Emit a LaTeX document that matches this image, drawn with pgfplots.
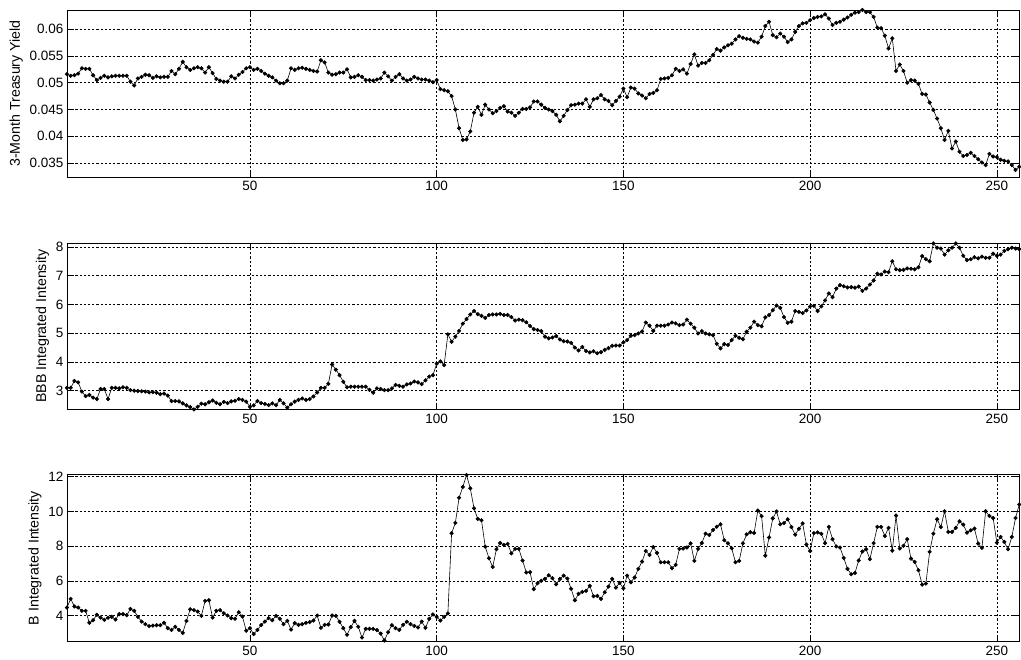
\documentclass[border=0pt]{standalone}
\usepackage{pgfplots}
\pgfplotsset{compat=1.18}
\usepackage{pgfplotstable}
\usepackage{fontspec}
\setmainfont{Liberation Sans}

\pgfplotstableread{
x T BBB B
1 0.0516 3.10 4.46
2 0.0513 3.10 4.96
3 0.0514 3.34 4.52
4 0.0517 3.29 4.46
5 0.0527 2.97 4.27
6 0.0526 2.81 4.27
7 0.0526 2.85 3.58
8 0.0514 2.76 3.73
9 0.0505 2.71 4.04
10 0.0509 3.06 3.88
11 0.0513 3.06 3.75
12 0.0510 2.71 3.87
13 0.0512 3.10 3.92
14 0.0513 3.10 3.77
15 0.0513 3.08 4.08
16 0.0513 3.12 4.08
17 0.0513 3.10 4.02
18 0.0502 3.02 4.38
19 0.0495 3.00 4.27
20 0.0508 2.99 3.92
21 0.0511 2.98 3.65
22 0.0515 2.97 3.50
23 0.0514 2.94 3.39
24 0.0509 2.95 3.42
25 0.0512 2.93 3.44
26 0.0510 2.88 3.44
27 0.0511 2.90 3.58
28 0.0511 2.83 3.27
29 0.0522 2.64 3.17
30 0.0516 2.64 3.35
31 0.0526 2.63 3.17
32 0.0539 2.56 3.00
33 0.0529 2.49 3.69
34 0.0524 2.43 4.36
35 0.0527 2.35 4.31
36 0.0529 2.44 4.23
37 0.0527 2.55 3.98
38 0.0519 2.53 4.84
39 0.0529 2.60 4.88
40 0.0518 2.66 3.88
41 0.0507 2.58 4.27
42 0.0504 2.53 4.31
43 0.0502 2.61 4.13
44 0.0502 2.57 4.00
45 0.0512 2.63 3.85
46 0.0508 2.65 3.81
47 0.0515 2.71 4.19
48 0.0520 2.68 3.94
49 0.0527 2.62 3.12
50 0.0529 2.44 3.27
51 0.0524 2.49 2.93
52 0.0526 2.64 3.17
53 0.0522 2.57 3.45
54 0.0517 2.54 3.65
55 0.0513 2.50 3.85
56 0.0510 2.56 3.73
57 0.0504 2.50 3.98
58 0.0499 2.68 3.81
59 0.0499 2.56 3.50
60 0.0504 2.41 3.69
61 0.0527 2.53 3.19
62 0.0524 2.62 3.56
63 0.0527 2.68 3.46
64 0.0528 2.73 3.50
65 0.0526 2.68 3.58
66 0.0524 2.71 3.62
67 0.0522 2.80 3.71
68 0.0521 2.94 4.00
69 0.0542 3.10 3.29
70 0.0538 3.10 3.46
71 0.0519 3.24 3.48
72 0.0515 3.91 4.00
73 0.0516 3.73 3.98
74 0.0519 3.54 3.64
75 0.0519 3.31 3.27
76 0.0525 3.12 2.89
77 0.0510 3.14 3.33
78 0.0511 3.14 3.69
79 0.0514 3.14 3.35
80 0.0511 3.14 2.73
81 0.0505 3.14 3.23
82 0.0505 3.03 3.23
83 0.0504 2.93 3.23
84 0.0506 3.08 3.16
85 0.0508 3.06 2.96
86 0.0519 3.02 2.56
87 0.0512 3.02 3.04
88 0.0504 3.08 3.44
89 0.0511 3.20 3.27
90 0.0516 3.17 3.17
91 0.0508 3.14 3.46
92 0.0504 3.22 3.64
93 0.0506 3.25 3.50
94 0.0511 3.32 3.40
95 0.0508 3.29 3.31
96 0.0506 3.23 3.65
97 0.0506 3.36 3.29
98 0.0504 3.49 3.81
99 0.0501 3.54 4.06
100 0.0505 3.94 3.92
101 0.0488 4.02 3.71
102 0.0486 3.89 3.92
103 0.0484 4.96 4.12
104 0.0475 4.70 8.74
105 0.0450 4.88 9.34
106 0.0415 5.08 10.79
107 0.0393 5.33 11.41
108 0.0394 5.49 12.10
109 0.0409 5.65 11.33
110 0.0444 5.77 10.18
111 0.0455 5.66 9.57
112 0.0440 5.60 9.49
113 0.0459 5.53 7.97
114 0.0450 5.63 7.30
115 0.0443 5.65 6.80
116 0.0447 5.65 7.82
117 0.0453 5.67 8.18
118 0.0456 5.63 8.07
119 0.0446 5.63 8.13
120 0.0444 5.56 7.58
121 0.0438 5.44 7.84
122 0.0444 5.47 7.84
123 0.0451 5.45 7.17
124 0.0451 5.38 6.48
125 0.0454 5.25 6.50
126 0.0465 5.14 5.52
127 0.0465 5.11 5.86
128 0.0459 5.07 6.00
129 0.0453 4.88 6.11
130 0.0450 4.82 6.32
131 0.0447 4.85 6.15
132 0.0440 4.90 5.80
133 0.0428 4.78 6.11
134 0.0438 4.72 6.30
135 0.0449 4.71 6.13
136 0.0458 4.66 5.54
137 0.0459 4.50 4.88
138 0.0461 4.40 5.25
139 0.0461 4.52 5.36
140 0.0469 4.38 5.42
141 0.0455 4.33 5.71
142 0.0469 4.37 5.11
143 0.0471 4.30 5.13
144 0.0477 4.34 4.96
145 0.0469 4.42 5.34
146 0.0466 4.48 5.67
147 0.0458 4.56 6.11
148 0.0466 4.57 5.61
149 0.0474 4.57 5.88
150 0.0489 4.68 5.57
151 0.0473 4.76 6.30
152 0.0491 4.91 5.92
153 0.0489 4.93 6.19
154 0.0480 4.99 6.69
155 0.0476 5.06 7.11
156 0.0471 5.37 7.72
157 0.0479 5.26 7.49
158 0.0481 5.08 7.95
159 0.0486 5.26 7.61
160 0.0507 5.26 7.07
161 0.0508 5.26 7.07
162 0.0509 5.30 7.07
163 0.0514 5.37 6.73
164 0.0526 5.34 6.92
165 0.0522 5.28 7.84
166 0.0525 5.30 7.86
167 0.0517 5.47 7.92
168 0.0535 5.33 8.16
169 0.0553 5.19 7.15
170 0.0532 4.99 7.84
171 0.0537 5.07 8.18
172 0.0537 4.99 8.72
173 0.0542 4.96 8.64
174 0.0552 4.93 8.93
175 0.0563 4.63 9.12
176 0.0560 4.47 9.26
177 0.0566 4.62 8.34
178 0.0570 4.59 8.16
179 0.0573 4.76 7.88
180 0.0581 4.91 7.07
181 0.0587 4.84 7.15
182 0.0584 4.79 8.16
183 0.0582 5.05 8.68
184 0.0581 5.19 8.80
185 0.0577 5.40 8.76
186 0.0575 5.28 10.05
187 0.0586 5.24 9.73
188 0.0606 5.55 7.45
189 0.0614 5.63 8.50
190 0.0589 5.80 9.60
191 0.0585 5.96 10.00
192 0.0592 5.88 9.26
193 0.0586 5.56 9.33
194 0.0576 5.36 9.55
195 0.0581 5.40 9.10
196 0.0595 5.77 8.66
197 0.0606 5.74 9.00
198 0.0611 5.70 9.31
199 0.0612 5.79 8.09
200 0.0617 5.93 7.72
201 0.0621 5.95 8.75
202 0.0623 5.77 8.79
203 0.0624 5.93 8.71
204 0.0628 6.14 8.17
205 0.0620 6.38 9.11
206 0.0608 6.25 8.40
207 0.0612 6.55 7.98
208 0.0614 6.67 7.92
209 0.0618 6.63 7.32
210 0.0622 6.59 6.69
211 0.0627 6.60 6.38
212 0.0631 6.58 6.45
213 0.0632 6.62 7.17
214 0.0636 6.47 7.69
215 0.0632 6.55 7.82
216 0.0632 6.69 7.25
217 0.0623 6.83 8.17
218 0.0603 7.07 9.11
219 0.0602 7.04 9.11
220 0.0588 7.14 8.58
221 0.0564 7.12 9.05
222 0.0583 7.50 7.74
223 0.0522 7.22 9.76
224 0.0534 7.19 7.86
225 0.0522 7.20 8.02
226 0.0500 7.25 8.40
227 0.0505 7.24 7.28
228 0.0504 7.22 7.09
229 0.0498 7.29 6.61
230 0.0479 7.68 5.78
231 0.0478 7.57 5.84
232 0.0463 7.50 7.67
233 0.0449 8.12 8.72
234 0.0433 7.97 9.55
235 0.0415 7.94 9.10
236 0.0393 7.73 10.01
237 0.0410 7.88 8.82
238 0.0377 7.97 8.82
239 0.0390 8.12 9.05
240 0.0371 7.97 9.43
241 0.0363 7.69 9.24
242 0.0365 7.54 8.78
243 0.0369 7.57 8.91
244 0.0363 7.64 9.01
245 0.0357 7.60 8.15
246 0.0351 7.66 7.90
247 0.0346 7.62 10.01
248 0.0367 7.62 9.74
249 0.0362 7.76 9.62
250 0.0361 7.69 8.20
251 0.0356 7.73 8.53
252 0.0354 7.86 8.24
253 0.0353 7.92 7.82
254 0.0346 7.97 8.53
255 0.0337 7.94 9.62
256 0.0343 7.92 10.40
}\data

\pgfplotsset{
  ser/.style={black, line width=0.6pt, mark=*, mark size=1.75pt, mark options={solid, fill=black}},
  panel/.style={
    width=953pt, height=167pt, scale only axis,
    xmin=1, xmax=256,
    xtick={50,100,150,200,250},
    grid=major,
    major grid style={black, dash pattern=on 2.2pt off 2pt, line width=0.5pt},
    axis line style={black, line width=0.6pt},
    tick style={black, line width=0.6pt},
    major tick length=7pt,
    tick align=inside,
    tick pos=both,
    ticklabel pos=lower,
    scaled y ticks=false,
    tick label style={font=\fontsize{13.5}{15}\selectfont},
    label style={font=\fontsize{14.2}{16}\selectfont},
    xticklabel style={yshift=-1pt},
    /pgf/number format/assume math mode=true,
  }
}

\begin{document}
\begin{tikzpicture}[x=1pt,y=1pt]
\path (0,0) rectangle (1021,-660);
\begin{axis}[panel, at={(67pt,-10pt)}, anchor=north west,
  ymin=0.0324, ymax=0.0636,
  ytick={0.035,0.04,0.045,0.05,0.055,0.06},
  yticklabel style={/pgf/number format/fixed, /pgf/number format/precision=3},
  ylabel={3-Month Treasury Yield}]
\addplot[ser] table[x=x, y=T] {\data};
\end{axis}
\begin{axis}[panel, at={(67pt,-243pt)}, anchor=north west,
  ymin=2.34, ymax=8.14,
  ytick={3,4,5,6,7,8},
  ylabel={BBB Integrated Intensity}]
\addplot[ser] table[x=x, y=BBB] {\data};
\end{axis}
\begin{axis}[panel, at={(67pt,-475pt)}, anchor=north west,
  ymin=2.5, ymax=12.12,
  ytick={4,6,8,10,12},
  ylabel={B Integrated Intensity}]
\addplot[ser] table[x=x, y=B] {\data};
\end{axis}
\end{tikzpicture}
\end{document}
